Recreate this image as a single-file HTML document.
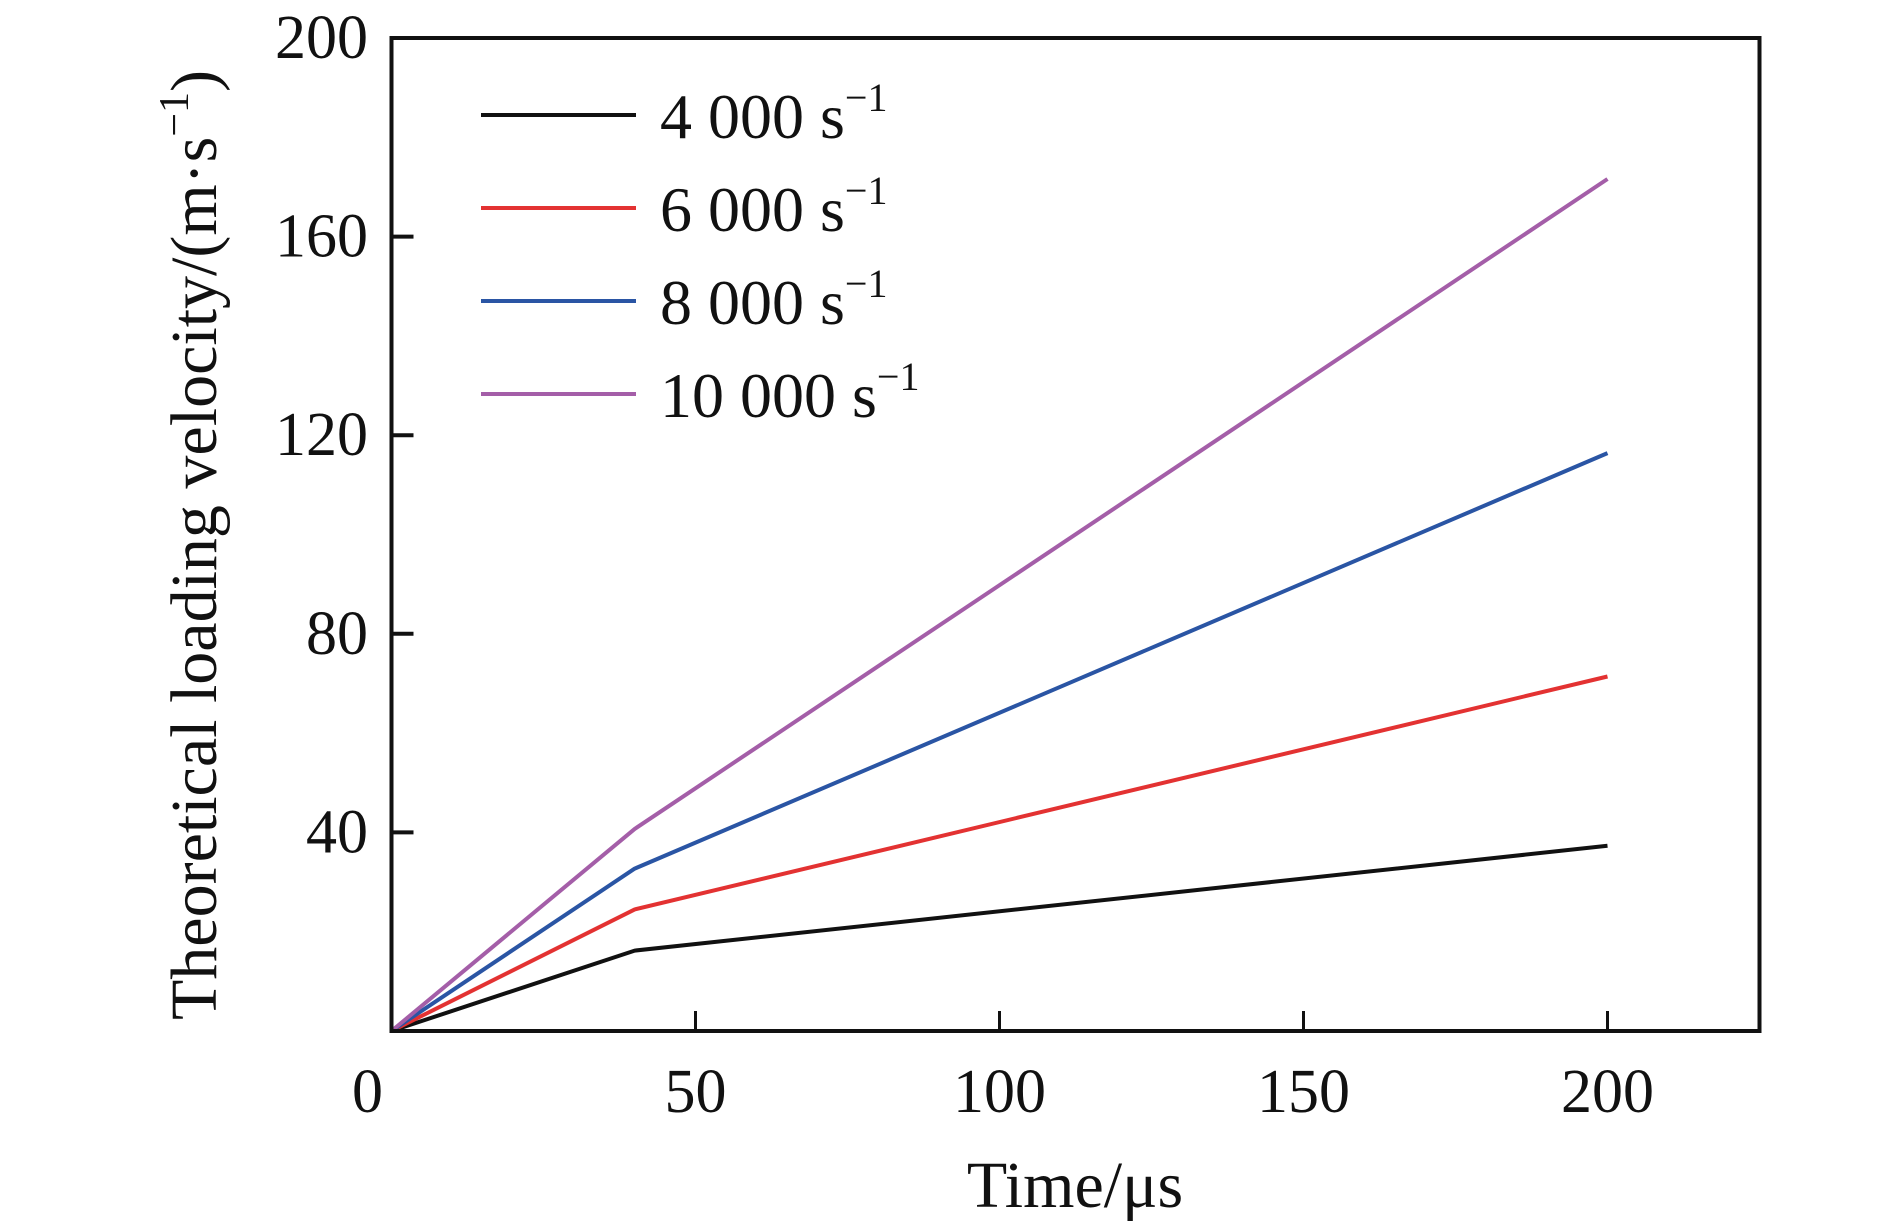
<!DOCTYPE html>
<html><head><meta charset="utf-8"><style>
html,body{margin:0;padding:0;background:#fff}
svg{display:block}
text{font-family:"Liberation Serif","Times New Roman",serif;fill:#111}
</style></head><body>
<svg id="chart" width="1890" height="1227" viewBox="0 0 1890 1227" xmlns="http://www.w3.org/2000/svg">
<g id="series"></g>
<g id="axes"></g>
<g id="legend"></g>
<text x="1075" y="1207" font-size="66" text-anchor="middle">Time/μs</text>
<text transform="translate(216,545) rotate(-90)" font-size="66" text-anchor="middle">Theoretical loading velocity/(m·s<tspan font-size="42" dy="-28">−1</tspan><tspan dy="28">)</tspan></text>
</svg>
<script>
const timesUs = [0, 40, 200];
const seriesNames = ["4 000", "6 000", "8 000", "10 000"];
const seriesColors = ["#111111", "#e33232", "#2a55a4", "#a45ea8"];
const v4000 = [0, 16.2, 37.3];
const v6000 = [0, 24.5, 71.4];
const v8000 = [0, 32.7, 116.4];
const v10000 = [0, 40.7, 171.6];
const xTicks = [0, 50, 100, 150, 200];
const yTicks = [40, 80, 120, 160, 200];

const X0 = 391.5, XS = 6.08, Y0 = 1031, YS = 4.965;
const xMax = 225;
function sx(v){return X0 + v*XS;}
function sy(v){return Y0 - v*YS;}
const NS = "http://www.w3.org/2000/svg";
function mk(tag, attrs, parent){const e=document.createElementNS(NS,tag);for(const k in attrs)e.setAttribute(k,attrs[k]);parent.appendChild(e);return e;}

const sg = document.getElementById('series');
const allSeries = [v4000, v6000, v8000, v10000];
allSeries.forEach((vals, i) => {
  const pts = vals.map((v, j) => sx(timesUs[j]).toFixed(1) + ',' + sy(v).toFixed(1)).join(' ');
  const p = mk('polyline', {points: pts, fill: 'none', stroke: seriesColors[i], 'stroke-width': 4, 'stroke-linejoin': 'round'}, sg);
  
  
});

const ag = document.getElementById('axes');
const frame = mk('rect', {x: sx(0), y: sy(200), width: sx(xMax)-sx(0), height: sy(0)-sy(200), fill: 'none', stroke: '#111', 'stroke-width': 4}, ag);


xTicks.forEach(t => {
  if (t > 0) {
    const l = mk('line', {x1: sx(t), x2: sx(t), y1: sy(0), y2: sy(0)-20, stroke: '#111', 'stroke-width': 3}, ag);
    
    
  }
  const tx = mk('text', {x: sx(t) - (t === 0 ? 24 : 0), y: 1112, 'font-size': 62, 'text-anchor': 'middle'}, ag);
  tx.textContent = t;
  
  
});
yTicks.forEach(t => {
  const l = mk('line', {x1: sx(0), x2: sx(0)+22, y1: sy(t), y2: sy(t), stroke: '#111', 'stroke-width': 4}, ag);
  
  
  const tx = mk('text', {x: 368, y: sy(t)+20, 'font-size': 62, 'text-anchor': 'end'}, ag);
  tx.textContent = t;
  
  
});

const lg = document.getElementById('legend');
const legendY = [115, 208, 301, 394];
seriesNames.forEach((n, i) => {
  const l = mk('line', {x1: 481, x2: 636, y1: legendY[i], y2: legendY[i], stroke: seriesColors[i], 'stroke-width': 4}, lg);
  
  
  const t = mk('text', {x: 660, y: legendY[i]+23, 'font-size': 64}, lg);
  
  
  t.textContent = n + ' s';
  const s = mk('tspan', {'font-size': 40, dy: -27}, t);
  s.textContent = '−1';
});
</script>
</body></html>
